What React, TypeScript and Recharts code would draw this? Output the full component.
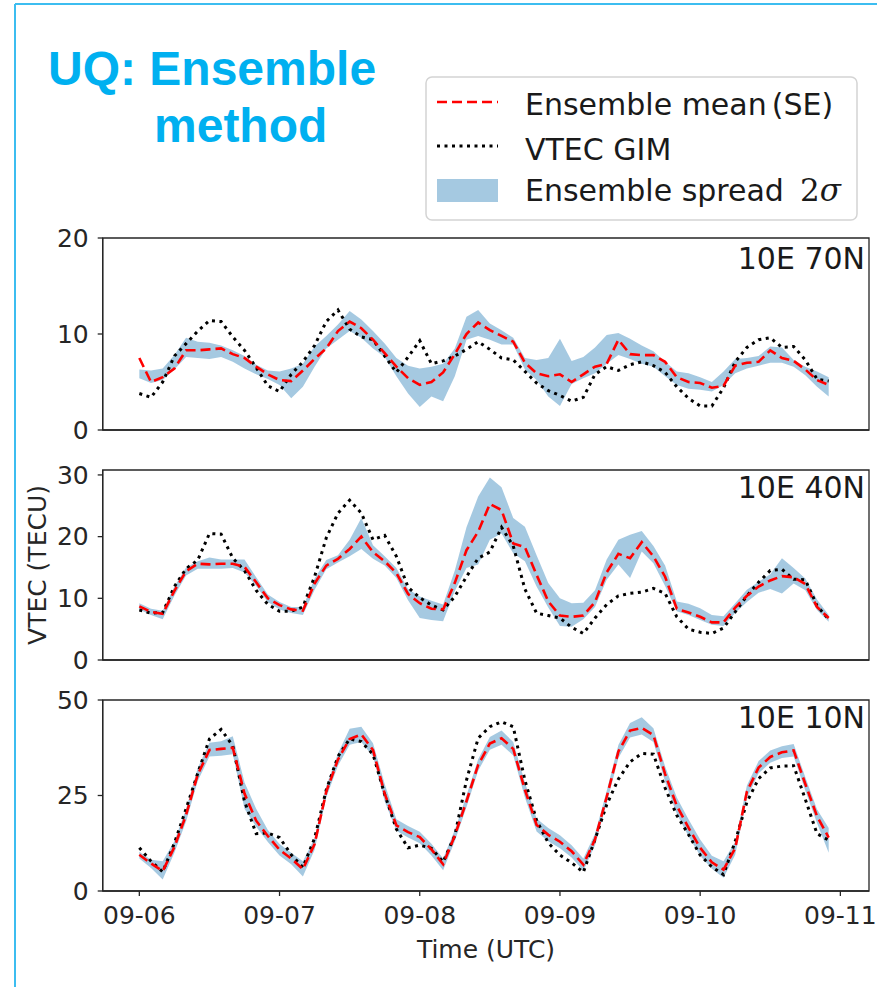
import React from "react";
import { ComposedChart, Line, Area, XAxis, YAxis, ReferenceArea } from "recharts";

// time in hours since 09-06 00:00 UTC
const hours = [
  0, 2, 4, 6, 8, 10, 12, 14, 16, 18,
  20, 22, 24, 26, 28, 30, 32, 34, 36, 38,
  40, 42, 44, 46, 48, 50, 52, 54, 56, 58,
  60, 62, 64, 66, 68, 70, 72, 74, 76, 78,
  80, 82, 84, 86, 88, 90, 92, 94, 96, 98,
  100, 102, 104, 106, 108, 110, 112, 114, 116, 118,
];

const dayTicks = [0, 24, 48, 72, 96, 120];
const dayLabels = ["09-06", "09-07", "09-08", "09-09", "09-10", "09-11"];

// 10E 70N
const p1Mean = [
  7.5, 5.0, 5.5, 6.4, 8.3, 8.3, 8.4, 8.5, 7.9, 7.5,
  6.6, 5.8, 5.2, 5.1, 6.2, 7.4, 8.5, 10.3, 11.3, 10.6,
  9.4, 8.0, 6.6, 5.4, 4.7, 5.0, 6.0, 7.9, 10.0, 11.2,
  10.4, 9.8, 9.2, 7.0, 5.9, 5.6, 5.8, 5.0, 5.8, 6.6,
  6.9, 9.4, 7.9, 7.8, 7.8, 7.1, 5.5, 5.0, 4.9, 4.4,
  4.6, 6.7, 7.0, 7.1, 8.3, 7.5, 7.2, 6.3, 5.2, 4.7,
];
const p1Gim = [
  3.8, 3.4, 5.0, 7.7, 9.0, 10.3, 11.4, 11.3, 9.7, 8.3,
  6.5, 4.6, 4.0, 5.8, 7.1, 8.8, 11.3, 12.5, 10.5, 9.7,
  9.4, 7.7, 6.0, 7.6, 9.3, 6.9, 7.2, 7.7, 8.4, 9.2,
  8.4, 7.5, 7.3, 6.1, 4.9, 4.1, 3.6, 3.0, 3.4, 5.8,
  6.6, 6.2, 6.8, 7.1, 6.7, 6.0, 4.5, 3.3, 2.5, 2.5,
  4.4, 7.1, 8.6, 9.4, 9.6, 8.6, 8.7, 7.3, 5.3, 5.1,
];
const p1Lo = [
  5.4, 4.9, 5.2, 6.3, 7.6, 7.5, 7.4, 7.6, 7.1, 6.4,
  5.8, 5.3, 4.7, 3.3, 4.5, 6.6, 8.5, 9.4, 10.3, 9.6,
  8.5, 7.6, 5.6, 3.8, 2.4, 3.5, 3.0, 5.6, 9.4, 9.8,
  9.4, 8.9, 8.9, 6.3, 5.2, 3.5, 2.5, 4.8, 5.4, 5.9,
  6.9, 7.8, 7.4, 6.9, 6.6, 5.6, 4.7, 4.3, 4.2, 4.0,
  4.7, 5.9, 6.4, 6.7, 7.0, 7.0, 6.6, 5.7, 4.5, 3.5,
];
const p1Hi = [
  6.3, 6.2, 6.4, 7.8, 9.6, 9.2, 9.1, 8.8, 8.3, 7.7,
  6.8, 6.2, 6.1, 6.4, 6.9, 8.7, 9.8, 11.0, 12.4, 11.5,
  10.3, 9.0, 7.5, 6.7, 6.4, 6.6, 6.9, 8.5, 11.8, 12.5,
  11.1, 10.4, 9.6, 7.5, 7.3, 7.5, 9.5, 7.2, 7.6, 8.6,
  9.9, 10.1, 9.5, 8.8, 8.2, 7.1, 6.1, 5.9, 5.5, 5.0,
  6.1, 7.4, 7.5, 7.7, 8.7, 8.6, 7.3, 6.6, 6.1, 5.5,
];

// 10E 40N
const p2Mean = [
  8.7, 7.8, 7.5, 11.2, 14.4, 15.6, 15.5, 15.6, 15.6, 15.1,
  12.6, 10.0, 8.9, 8.2, 8.0, 12.4, 15.3, 16.4, 18.0, 20.0,
  17.5, 16.0, 14.1, 10.7, 9.2, 8.3, 8.2, 12.5, 17.8, 20.8,
  25.3, 24.3, 18.9, 18.3, 13.8, 9.5, 7.2, 7.0, 7.2, 9.4,
  14.2, 17.2, 16.5, 19.1, 16.8, 13.5, 8.3, 7.7, 7.0, 6.1,
  6.1, 8.5, 10.4, 11.9, 12.9, 13.6, 13.4, 12.3, 8.6, 6.8,
];
const p2Gim = [
  8.1, 7.6, 7.7, 11.9, 14.8, 16.2, 20.5, 20.4, 16.5, 14.5,
  11.3, 9.0, 7.9, 7.9, 8.6, 13.5, 19.8, 23.8, 25.9, 23.8,
  19.5, 20.2, 16.8, 11.8, 10.1, 8.9, 8.1, 10.3, 13.5, 16.5,
  17.5, 21.5, 18.5, 11.5, 7.6, 7.2, 6.8, 5.3, 4.3, 6.8,
  9.0, 10.4, 10.8, 11.0, 11.6, 10.8, 7.0, 5.0, 4.5, 4.3,
  5.2, 7.8, 10.4, 12.6, 14.5, 14.7, 13.1, 13.0, 8.8, 6.6,
];
const p2Lo = [
  8.2, 7.3, 6.6, 10.4, 13.7, 14.8, 14.8, 14.8, 14.9, 14.2,
  12.0, 9.4, 8.2, 7.6, 7.3, 11.4, 14.7, 15.8, 16.8, 18.0,
  16.4, 15.3, 13.3, 9.7, 6.8, 6.5, 6.3, 11.2, 14.9, 15.5,
  19.5, 20.5, 17.3, 16.0, 11.9, 8.5, 5.5, 5.4, 6.6, 8.6,
  13.0, 15.5, 13.3, 17.6, 15.7, 12.0, 7.9, 7.3, 6.5, 5.7,
  5.5, 7.6, 9.4, 10.9, 11.5, 10.8, 12.4, 11.3, 8.1, 6.2,
];
const p2Hi = [
  9.2, 8.3, 8.0, 11.9, 15.0, 16.0, 16.6, 16.3, 16.3, 16.3,
  13.4, 10.6, 9.4, 8.6, 8.6, 13.2, 16.2, 17.0, 19.5, 23.0,
  18.6, 16.8, 14.9, 11.5, 10.3, 9.6, 9.0, 14.5, 21.5, 26.5,
  29.6, 28.0, 23.0, 21.6, 17.0, 12.5, 10.0, 9.2, 9.3, 11.3,
  16.3, 19.5, 20.3, 20.9, 18.5, 15.3, 9.5, 9.1, 8.4, 7.3,
  7.1, 9.2, 11.4, 12.7, 13.9, 16.5, 14.9, 13.2, 9.8, 7.3,
];

// 10E 10N
const p3Mean = [
  9.5, 7.2, 5.2, 11.5, 19.9, 30.5, 36.9, 37.2, 37.5, 25.5,
  18.4, 14.4, 10.8, 8.5, 5.7, 12.3, 26.0, 34.4, 39.8, 41.0,
  36.9, 25.5, 17.2, 15.4, 14.1, 10.9, 7.0, 14.5, 23.5, 33.0,
  38.6, 40.0, 37.2, 26.5, 17.3, 14.7, 12.9, 10.4, 6.9, 13.5,
  24.6, 36.5, 42.0, 42.7, 40.8, 30.6, 22.3, 16.6, 11.3, 7.5,
  5.6, 11.2, 26.0, 32.3, 35.1, 36.3, 36.8, 28.0, 19.6, 14.0,
];
const p3Gim = [
  11.3, 7.8, 5.0, 12.5, 21.5, 30.8, 39.8, 42.3, 38.0, 23.5,
  15.0, 15.2, 14.0, 9.5, 6.2, 13.8, 26.5, 35.2, 39.8, 39.1,
  35.8, 25.3, 16.2, 11.3, 12.0, 11.2, 7.6, 14.5, 29.0, 40.0,
  43.0, 44.3, 43.0, 29.0, 18.5, 12.6, 9.4, 7.4, 4.9, 13.5,
  22.6, 29.3, 33.8, 36.0, 35.8, 27.0, 19.8, 14.8, 9.4, 6.3,
  4.3, 13.0, 23.3, 29.4, 32.2, 32.7, 32.8, 24.0, 15.0, 13.3,
];
const p3Lo = [
  8.5, 6.0, 3.0, 10.0, 18.2, 28.8, 35.2, 35.4, 35.8, 21.5,
  16.8, 12.8, 9.3, 7.0, 3.8, 10.8, 24.5, 32.8, 38.3, 39.0,
  35.2, 23.5, 15.8, 14.0, 12.5, 9.3, 5.4, 13.0, 22.0, 31.5,
  37.0, 38.3, 35.5, 24.5, 15.6, 13.0, 11.2, 8.8, 5.3, 12.0,
  23.0, 34.8, 40.2, 41.0, 39.0, 28.6, 20.2, 14.3, 9.2, 5.8,
  3.5, 9.5, 24.4, 30.8, 33.6, 34.8, 35.2, 26.3, 17.8, 10.0,
];
const p3Hi = [
  10.3, 8.2, 7.8, 13.0, 21.5, 32.2, 38.8, 39.2, 40.5, 28.5,
  21.5, 16.0, 12.3, 10.0, 7.8, 13.8, 27.5, 36.0, 42.5, 43.0,
  38.7, 28.0, 18.8, 17.0, 15.5, 12.4, 8.5, 16.0, 25.0, 34.5,
  40.3, 42.0, 39.0, 28.5, 19.0, 16.5, 14.6, 12.0, 8.5, 15.0,
  26.2, 38.2, 44.0, 45.5, 42.6, 32.6, 24.5, 18.8, 13.5, 9.2,
  7.8, 12.9, 27.6, 34.0, 36.8, 37.9, 38.5, 29.8, 21.4, 16.5,
];

const X_DOMAIN: [number, number] = [-6.27, 124.9];
const FONT = "'DejaVu Sans', sans-serif";
const INK = "#1a1a1a";
const AXIS = "#262626";
const BAND = "#1f77b4";

function rows(mean: number[], gim: number[], lo: number[], hi: number[]) {
  return hours.map((t, i) => ({ t, mean: mean[i], gim: gim[i], band: [lo[i], hi[i]] }));
}

interface PanelProps {
  top: number;
  plotHeight: number;
  yMax: number;
  yTicks: number[];
  data: { t: number; mean: number; gim: number; band: number[] }[];
  showDates?: boolean;
}

function Panel({ top, plotHeight, yMax, yTicks, data, showDates }: PanelProps) {
  const xAxisH = showDates ? 50 : 30;
  const mTop = 20; // room so the top tick label is not clipped
  return (
    <div style={{ position: "absolute", left: 0, top: top - mTop }}>
      <ComposedChart width={877} height={mTop + plotHeight + xAxisH} data={data}
        margin={{ top: mTop, right: 8, bottom: 0, left: 0 }}>
        <XAxis dataKey="t" type="number" domain={X_DOMAIN} allowDataOverflow
          ticks={dayTicks} interval={0} height={xAxisH}
          tickFormatter={(v: number) => dayLabels[dayTicks.indexOf(v)] ?? ""}
          tick={showDates ? { fontSize: 25, fill: AXIS, fontFamily: FONT } : false}
          tickSize={5} tickMargin={10}
          axisLine={{ stroke: AXIS, strokeWidth: 1.3 }} tickLine={{ stroke: AXIS, strokeWidth: 1.3 }} />
        <YAxis type="number" domain={[0, yMax]} allowDataOverflow ticks={yTicks} interval={0}
          width={102.7} tickSize={5} tickMargin={9}
          tick={{ fontSize: 25, fill: AXIS, fontFamily: FONT }}
          axisLine={{ stroke: AXIS, strokeWidth: 1.3 }} tickLine={{ stroke: AXIS, strokeWidth: 1.3 }} />
        <Area dataKey="band" type="linear" stroke="none" fill={BAND} fillOpacity={0.4}
          isAnimationActive={false} dot={false} activeDot={false} />
        <Line dataKey="gim" type="linear" stroke="#000" strokeWidth={3} strokeDasharray="3 4.5"
          dot={false} activeDot={false} isAnimationActive={false} />
        <Line dataKey="mean" type="linear" stroke="#ff0000" strokeWidth={2.6} strokeDasharray="10 5"
          dot={false} activeDot={false} isAnimationActive={false} />
        <ReferenceArea x1={X_DOMAIN[0]} x2={X_DOMAIN[1]} y1={0} y2={yMax} ifOverflow="visible"
          fill="none" stroke={AXIS} strokeWidth={1.3} />
      </ComposedChart>
    </div>
  );
}

export default function App() {
  const d1 = rows(p1Mean, p1Gim, p1Lo, p1Hi);
  const d2 = rows(p2Mean, p2Gim, p2Lo, p2Hi);
  const d3 = rows(p3Mean, p3Gim, p3Lo, p3Hi);

  return (
    <div style={{ position: "absolute", left: 0, top: 0, width: 877, height: 987, background: "#fff", overflow: "hidden" }}>
      <Panel top={238} plotHeight={192} yMax={20} yTicks={[0, 10, 20]} data={d1} />
      <Panel top={470} plotHeight={190} yMax={30.8} yTicks={[0, 10, 20, 30]} data={d2} />
      <Panel top={700} plotHeight={191} yMax={50} yTicks={[0, 25, 50]} data={d3} showDates />

      <svg width={877} height={987} style={{ position: "absolute", left: 0, top: 0, pointerEvents: "none" }}>
        {/* slide frame */}
        <line x1={15} y1={4} x2={877} y2={4} stroke="#3cbdf0" strokeWidth={2} />
        <line x1={15} y1={4} x2={15} y2={987} stroke="#3cbdf0" strokeWidth={2} />

        {/* title */}
        <g fill="#00b0f0" fontFamily="'Liberation Sans', Arial, sans-serif" fontWeight="bold" fontSize={48}>
          <text x={48} y={85}>UQ: Ensemble</text>
          <text x={154} y={142}>method</text>
        </g>

        {/* legend */}
        <rect x={426} y={77} width={431} height={143} rx={6} fill="#fff" stroke="#d4d4d4" strokeWidth={1.5} />
        <line x1={437} y1={102} x2={498} y2={102} stroke="#ff0000" strokeWidth={2.6} strokeDasharray="10 5" />
        <line x1={437} y1={146} x2={498} y2={146} stroke="#000" strokeWidth={3} strokeDasharray="3 4.5" />
        <rect x={437} y={179} width={61} height={23} fill={BAND} fillOpacity={0.4} />
        <g fill={INK} fontFamily={FONT} fontSize={30}>
          <text x={525} y={115}>Ensemble mean<tspan dx={5}>(SE)</tspan></text>
          <text x={525} y={160}>VTEC GIM</text>
          <text x={525} y={201}>Ensemble spread <tspan x={800} fontFamily="'DejaVu Serif', serif" fontSize={31}>2</tspan><tspan fontFamily="'DejaVu Serif', serif" fontStyle="italic" fontSize={31}>σ</tspan></text>
        </g>

        {/* panel labels */}
        <g fill={INK} fontFamily={FONT} fontSize={30} textAnchor="end">
          <text x={865} y={269}>10E 70N</text>
          <text x={865} y={498}>10E 40N</text>
          <text x={865} y={728}>10E 10N</text>
        </g>

        {/* axis titles */}
        <text x={46} y={565} transform="rotate(-90 46 565)" textAnchor="middle" fill={AXIS} fontFamily={FONT} fontSize={25}>VTEC (TECU)</text>
        <text x={486} y={958} textAnchor="middle" fill={AXIS} fontFamily={FONT} fontSize={25}>Time (UTC)</text>
      </svg>
    </div>
  );
}
